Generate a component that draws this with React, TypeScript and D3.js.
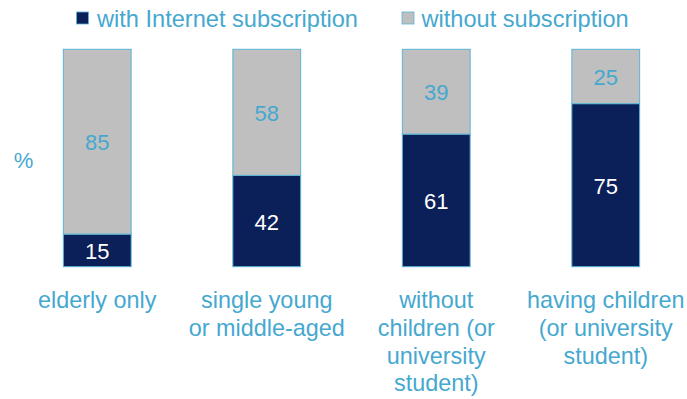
import React from "react";
import * as d3 from "d3";

const categories: string[][] = [
  ["elderly only"],
  ["single young", "or middle-aged"],
  ["without", "children (or", "university", "student)"],
  ["having children", "(or university", "student)"],
];
const withInternet = [15, 42, 61, 75];
const withoutSub = [85, 58, 39, 25];
const legendLabels = ["with Internet subscription", "without subscription"];

const W = 687;
const H = 399;
const TEXT = "#46A8CF";
const DARK = "#0B1F58";
const GRAY = "#BFBFBF";
const STROKE = "#5AB4D6";
const FONT = "'Liberation Sans', Arial, sans-serif";

export default function App() {
  const x = d3
    .scaleBand<number>()
    .domain(d3.range(categories.length))
    .range([12.5, 690.5])
    .paddingInner(0.6)
    .paddingOuter(0.3);
  const y = d3.scaleLinear().domain([0, 100]).range([266.7, 49.3]);
  const bw = x.bandwidth();

  return (
    <svg
      width={W}
      height={H}
      style={{ position: "absolute", left: 0, top: 0, background: "#fff" }}
      fontFamily={FONT}
    >
      {/* legend */}
      <rect x={76.5} y={12} width={12} height={12} fill={DARK} stroke={STROKE} strokeWidth={0.8} />
      <text x={97} y={26.5} fontSize={23.6} fill={TEXT}>{legendLabels[0]}</text>
      <rect x={402} y={12} width={12} height={12} fill={GRAY} stroke={STROKE} strokeWidth={0.8} />
      <text x={421.5} y={26.5} fontSize={23.6} fill={TEXT}>{legendLabels[1]}</text>

      <text x={23.5} y={160} fontSize={22} fill={TEXT} textAnchor="middle" dominantBaseline="central">%</text>

      {categories.map((lines, i) => {
        const x0 = x(i)!;
        const cx = x0 + bw / 2;
        const a = withInternet[i];
        const b = withoutSub[i];
        return (
          <g key={i}>
            <rect x={x0} y={y(a)} width={bw} height={y(0) - y(a)} fill={DARK} stroke={STROKE} strokeWidth={1} />
            <rect x={x0} y={y(a + b)} width={bw} height={y(a) - y(a + b)} fill={GRAY} stroke={STROKE} strokeWidth={1} />
            <text x={cx} y={(y(0) + y(a)) / 2 + 1} fontSize={22} fill="#fff" textAnchor="middle" dominantBaseline="central">{a}</text>
            <text x={cx} y={(y(a) + y(a + b)) / 2 + 1} fontSize={22} fill={TEXT} textAnchor="middle" dominantBaseline="central">{b}</text>
            {lines.map((ln, j) => (
              <text key={j} x={cx} y={308 + j * 27.8} fontSize={23.4} fill={TEXT} textAnchor="middle">{ln}</text>
            ))}
          </g>
        );
      })}
    </svg>
  );
}
